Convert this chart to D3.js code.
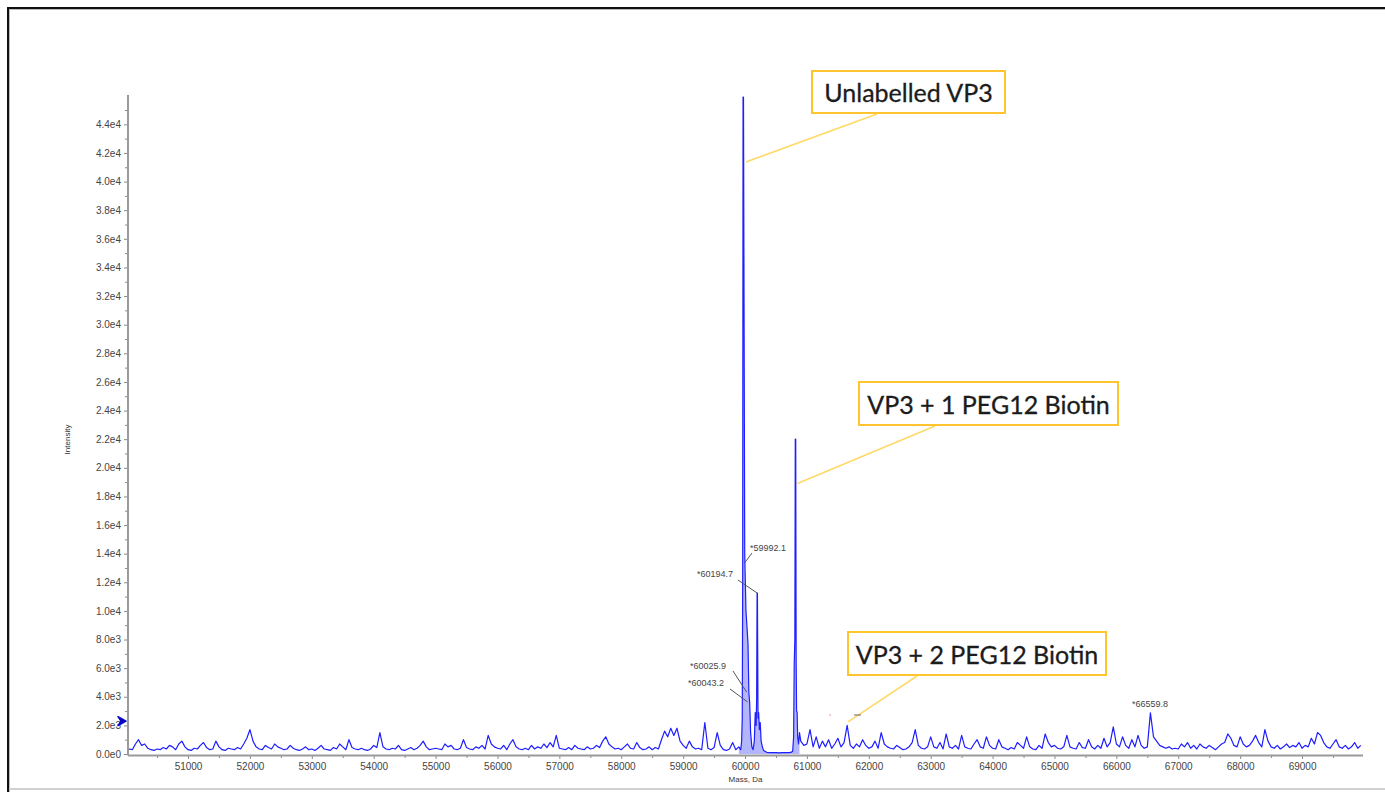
<!DOCTYPE html>
<html>
<head>
<meta charset="utf-8">
<script src="https://cdn.jsdelivr.net/npm/d3@7"></script>
<style>
  html, body { margin: 0; padding: 0; background: #fff; }
  svg { display: block; }
</style>
</head>
<body>
<svg id="chart" width="1385" height="792"></svg>
<script>
// ---------------- DATA ----------------
// noise before the main cluster: masses 50000, 50050, ... (step 50 Da)
const noiseLeftStart = 50000;
const noiseStep = 50;
const noiseLeft = [
  200, 350, 300, 700, 1000, 600, 700, 400, 300, 250, 350, 300, 450, 350, 600, 500, 300, 700, 900, 500,
  300, 250, 400, 350, 600, 800, 450, 300, 350, 900, 500, 300, 250, 400, 350, 300, 450, 350, 700, 1100,
  1700, 900, 500, 350, 300, 600, 450, 350, 700, 500, 400, 300, 350, 600, 400, 300, 250, 350, 500, 300,
  350, 250, 400, 600, 350, 300, 250, 450, 350, 700, 500, 300, 1000, 450, 350, 300, 400, 300, 250, 350,
  600, 450, 1500, 500, 350, 300, 400, 350, 600, 300, 250, 350, 450, 300, 400, 600, 900, 500, 300, 350,
  400, 350, 300, 700, 500, 600, 350, 300, 400, 1000, 450, 350, 300, 500, 400, 600, 350, 1300, 700, 500,
  400, 350, 600, 300, 700, 1000, 500, 350, 300, 400, 300, 600, 350, 500, 400, 700, 450, 800, 500, 1300,
  400, 350, 300, 450, 300, 600, 400, 350, 300, 500, 350, 400, 600, 450, 900, 1200, 700, 500, 350, 400,
  300, 500, 700, 400, 350, 800, 450, 300, 350, 500, 300, 450, 350, 1000, 1600, 1200, 1800, 1300, 1800, 900,
  600, 400, 900, 500, 350, 400, 300, 2200, 400, 300, 450, 1500, 600, 300, 250, 350, 800, 300
];
// main cluster (unlabelled VP3 and +1 PEG12 Biotin), explicit masses
const clusterMass = [59900, 59930, 59945, 59955, 59962, 59968, 59975, 59985, 59995, 60005, 60015, 60030, 60048, 60062, 60075, 60090, 60110, 60130, 60150, 60165, 60180, 60188, 60194.7, 60200, 60210, 60220, 60232, 60245, 60260, 60280, 60300, 60350, 60400, 60450, 60500, 60550, 60600, 60650, 60700, 60740, 60770, 60785, 60795, 60805, 60812, 60819, 60826, 60833, 60842, 60850, 60865, 60880];
const clusterIntensity = [500, 300, 900, 2500, 12000, 45900, 45900, 30000, 14000, 12000, 10000, 9000, 7700, 4300, 3600, 1500, 500, 300, 900, 2900, 2000, 4000, 11250, 11250, 2500, 2900, 1700, 2200, 900, 500, 250, 120, 100, 90, 100, 80, 100, 90, 100, 110, 200, 1200, 6400, 8000, 22000, 22000, 6400, 3000, 2900, 1200, 700, 1500];
// noise after the cluster: masses 60900, 60950, ... (step 50 Da)
const noiseRightStart = 60900;
const noiseRight = [
  900, 600,
  700, 1700, 500, 1200, 400, 900, 500, 1000, 400, 700, 1100, 500, 800, 2000, 600, 400, 700, 500, 1000, 600,
  400, 500, 900, 400, 1500, 700, 500, 400, 350, 600, 450, 300, 350, 500, 800, 1700, 600, 400, 350, 500,
  1200, 500, 400, 800, 350, 1400, 500, 400, 600, 350, 1300, 500, 400, 350, 700, 1000, 500, 400, 1200, 600,
  400, 350, 1000, 500, 400, 300, 450, 350, 800, 600, 400, 1200, 500, 350, 300, 600, 400, 1400, 800, 500,
  600, 400, 350, 500, 1300, 500, 400, 350, 800, 450, 400, 1000, 500, 350, 600, 400, 1100, 500, 800, 1900,
  700, 500, 1200, 600, 400, 1000, 500, 1300, 600, 400, 500, 2870, 1200, 900, 600, 500, 400, 500, 350, 400,
  350, 700, 500, 800, 400, 600, 350, 700, 500, 400, 600, 450, 300, 500, 700, 800, 1400, 1100, 600, 500,
  1200, 700, 500, 600, 900, 1300, 800, 500, 1700, 900, 500, 400, 600, 350, 500, 700, 450, 600, 500, 800,
  400, 600, 500, 1100, 700, 1500, 1300, 800, 500, 400, 700, 1000, 500, 400, 600, 350, 500, 800, 400, 600
];
// axis ticks
const xTickValues = [51000, 52000, 53000, 54000, 55000, 56000, 57000, 58000, 59000, 60000, 61000, 62000, 63000, 64000, 65000, 66000, 67000, 68000, 69000];
const yTickValues = [0, 2000, 4000, 6000, 8000, 10000, 12000, 14000, 16000, 18000, 20000, 22000, 24000, 26000, 28000, 30000, 32000, 34000, 36000, 38000, 40000, 42000, 44000];
// peak mass labels: text, mass/intensity of the point they mark
const peakLabels = ["*59992.1", "*60194.7", "*60025.9", "*60043.2", "*66559.8"];
const peakLabelMass = [59992.1, 60194.7, 60025.9, 60043.2, 66559.8];
const peakLabelIntensity = [13350, 11250, 4330, 3630, 2870];
// callout boxes
const calloutText = ["Unlabelled VP3", "VP3 + 1 PEG12 Biotin", "VP3 + 2 PEG12 Biotin"];
const calloutMass = [59990, 60822, 61640];
const calloutIntensity = [41370, 18900, 2250];

// ---------------- LAYOUT ----------------
const svg = d3.select("#chart");
const plot = { left: 128, right: 1363, top: 95, bottom: 754 };

const x = d3.scaleLinear().domain([50030, 69985]).range([plot.left, plot.right]);
const y = d3.scaleLinear().domain([0, 46050]).range([plot.bottom, plot.top]);

// frame
svg.append("line").attr("x1", 7).attr("x2", 1385).attr("y1", 8).attr("y2", 8).attr("stroke", "#111").attr("stroke-width", 2);
svg.append("line").attr("x1", 7).attr("x2", 1385).attr("y1", 9.5).attr("y2", 9.5).attr("stroke", "#bbb").attr("stroke-width", 1);
svg.append("line").attr("x1", 8).attr("x2", 8).attr("y1", 7).attr("y2", 792).attr("stroke", "#111").attr("stroke-width", 2);
svg.append("line").attr("x1", 9.5).attr("x2", 9.5).attr("y1", 9).attr("y2", 792).attr("stroke", "#bbb").attr("stroke-width", 1);
svg.append("line").attr("x1", 9).attr("x2", 1385).attr("y1", 789).attr("y2", 789).attr("stroke", "#d0d0d0").attr("stroke-width", 2);

// build points
const pts = [];
noiseLeft.forEach((v, i) => pts.push([noiseLeftStart + i * noiseStep, v]));
const clusterPts = clusterMass.map((m, i) => [m, clusterIntensity[i]]);
clusterPts.forEach(p => pts.push(p));
noiseRight.forEach((v, i) => pts.push([noiseRightStart + i * noiseStep, v]));
pts.sort((a, b) => a[0] - b[0]);

svg.append("defs").append("clipPath").attr("id", "clip")
  .append("rect").attr("x", plot.left + 1).attr("y", 0).attr("width", plot.right - plot.left - 1).attr("height", plot.bottom + 1);

const g = svg.append("g").attr("clip-path", "url(#clip)");
g.append("path")
  .datum(clusterPts)
  .attr("d", d3.area().x(d => x(d[0])).y0(y(0)).y1(d => y(d[1])))
  .attr("fill", "#b3b6fb");
g.append("path")
  .datum(pts)
  .attr("d", d3.line().x(d => x(d[0])).y(d => y(d[1])))
  .attr("fill", "none")
  .attr("stroke", "#1e1eff")
  .attr("stroke-width", 1.2)
  .attr("stroke-linejoin", "round");

// axes
const fmtY = d => {
  if (d === 0) return "0.0e0";
  const e = Math.floor(Math.log10(d));
  return (d / Math.pow(10, e)).toFixed(1) + "e" + e;
};
const yAxis = svg.append("g").attr("transform", `translate(${plot.left},0)`)
  .call(d3.axisLeft(y).tickValues(yTickValues).tickSize(4).tickPadding(3).tickFormat(fmtY));
const yMinor = svg.append("g").attr("transform", `translate(${plot.left},0)`)
  .call(d3.axisLeft(y).tickValues(yTickValues.map(v => v + 1000)).tickSize(3).tickFormat(""));
const xAxis = svg.append("g").attr("transform", `translate(0,${plot.bottom + 1})`)
  .call(d3.axisBottom(x).tickValues(xTickValues).tickSize(4).tickPadding(4).tickFormat(d => String(d)));
const xMinor = svg.append("g").attr("transform", `translate(0,${plot.bottom + 1})`)
  .call(d3.axisBottom(x).tickValues(xTickValues.map(v => v - 500).concat([69500])).tickSize(3).tickFormat(""));

[yAxis, yMinor, xAxis, xMinor].forEach(a => {
  a.select(".domain").remove();
  a.selectAll(".tick line").attr("stroke", "#8a8a8a");
  a.selectAll("text").attr("font-family", "Liberation Sans, Arial, sans-serif").attr("font-size", 10).attr("fill", "#444");
});
svg.append("line").attr("x1", plot.left).attr("x2", plot.left).attr("y1", plot.top).attr("y2", plot.bottom + 1.5)
  .attr("stroke", "#9a9a9a").attr("stroke-width", 2);
svg.append("line").attr("x1", plot.left).attr("x2", plot.right).attr("y1", plot.bottom + 1.5).attr("y2", plot.bottom + 1.5)
  .attr("stroke", "#9a9a9a").attr("stroke-width", 2);

// axis titles
svg.append("text").attr("transform", `translate(70,${(plot.top + plot.bottom) / 2 + 15}) rotate(-90)`)
  .attr("text-anchor", "middle").attr("font-family", "Liberation Sans, Arial, sans-serif").attr("font-size", 8).attr("fill", "#333")
  .text("Intensity");
svg.append("text").attr("x", (plot.left + plot.right) / 2).attr("y", 782)
  .attr("text-anchor", "middle").attr("font-family", "Liberation Sans, Arial, sans-serif").attr("font-size", 8).attr("fill", "#333")
  .text("Mass, Da");

// threshold marker on y axis
const my = y(2300);
svg.append("path").attr("d", `M${plot.left - 10},${my - 4.5} L${plot.left - 2},${my} L${plot.left - 10},${my + 4.5} L${plot.left - 7},${my} Z`)
  .attr("fill", "#0808c8").attr("stroke", "#0808c8").attr("stroke-width", 1.5).attr("stroke-linejoin", "round");

// peak labels
const peakLabelPos = [[750, 551], [697, 577], [690, 669], [688, 686], [1150, 707]];
const peakLeaderStart = [[752, 553], [738, 580], [733, 671], [730, 689], null];
peakLabels.forEach((t, i) => {
  const [lx, ly] = peakLabelPos[i];
  svg.append("text").attr("x", lx).attr("y", ly)
    .attr("text-anchor", i === 4 ? "middle" : "start")
    .attr("font-family", "Liberation Sans, Arial, sans-serif").attr("font-size", 9).attr("fill", "#444")
    .text(t);
  if (peakLeaderStart[i]) {
    svg.append("line").attr("x1", peakLeaderStart[i][0]).attr("y1", peakLeaderStart[i][1])
      .attr("x2", x(peakLabelMass[i])).attr("y2", y(peakLabelIntensity[i]))
      .attr("stroke", "#555").attr("stroke-width", 1);
  }
});

// callouts
const boxes = [
  { x0: 812, y0: 71, x1: 1005, y1: 113, lx: 877, ly: 114 },
  { x0: 859, y0: 382, x1: 1118, y1: 425, lx: 935, ly: 426 },
  { x0: 848, y0: 632, x1: 1106, y1: 675, lx: 917, ly: 676 }
];
boxes.forEach((b, i) => {
  svg.append("line").attr("x1", b.lx).attr("y1", b.ly)
    .attr("x2", x(calloutMass[i]) + 1.5).attr("y2", y(calloutIntensity[i]))
    .attr("stroke", "#ffd966").attr("stroke-width", 1.6);
  svg.append("rect").attr("x", b.x0).attr("y", b.y0).attr("width", b.x1 - b.x0).attr("height", b.y1 - b.y0)
    .attr("fill", "#fff").attr("stroke", "#ffc42e").attr("stroke-width", 2);
  svg.append("text").attr("x", (b.x0 + b.x1) / 2).attr("y", b.y1 - 11)
    .attr("text-anchor", "middle").attr("font-family", "Lato, 'Open Sans', sans-serif").attr("font-size", 25)
    .attr("fill", "#1c1c1c").attr("stroke", "#1c1c1c").attr("stroke-width", 0.3).text(calloutText[i]);
});

// small marks near the +2 peak
svg.append("line").attr("x1", 854).attr("x2", 861).attr("y1", 715).attr("y2", 715).attr("stroke", "#666").attr("stroke-width", 1);
svg.append("circle").attr("cx", 830).attr("cy", 715).attr("r", 0.7).attr("fill", "#d66");
</script>
</body>
</html>
